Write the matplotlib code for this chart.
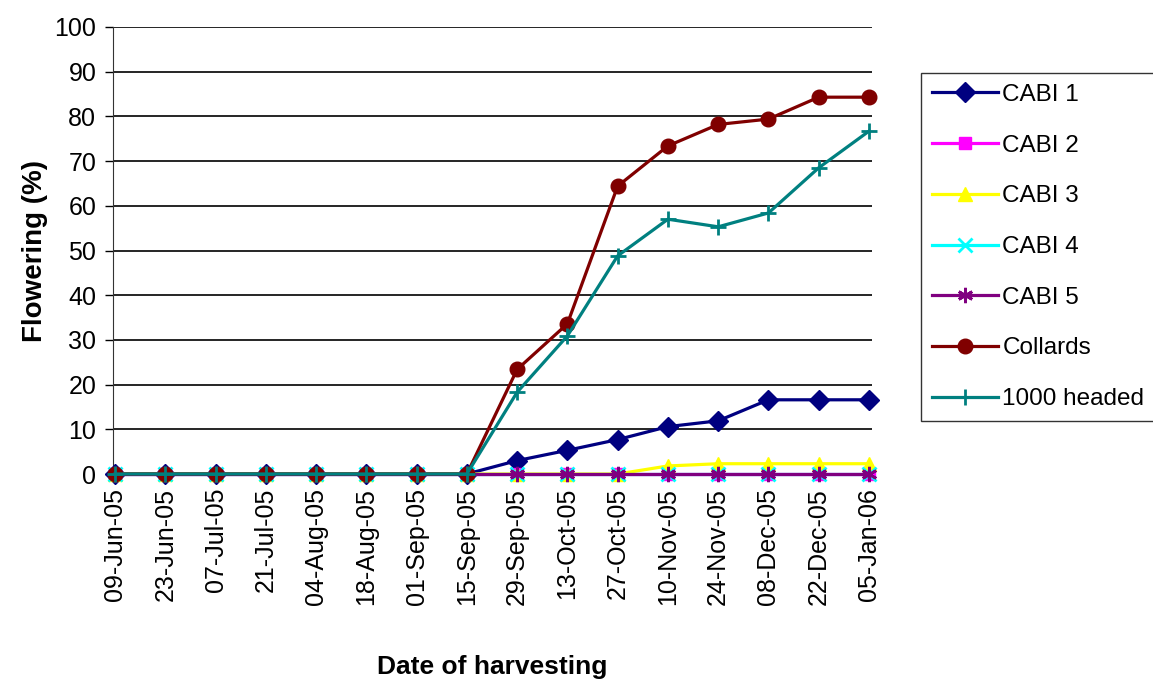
import matplotlib
matplotlib.use("Agg")
import matplotlib.pyplot as plt

dates = ["09-Jun-05", "23-Jun-05", "07-Jul-05", "21-Jul-05", "04-Aug-05",
         "18-Aug-05", "01-Sep-05", "15-Sep-05", "29-Sep-05", "13-Oct-05",
         "27-Oct-05", "10-Nov-05", "24-Nov-05", "08-Dec-05", "22-Dec-05",
         "05-Jan-06"]

cabi1 = [0, 0, 0, 0, 0, 0, 0, 0, 3.0, 5.3, 7.7, 10.6, 11.9, 16.6, 16.6, 16.6]
cabi2 = [0, 0, 0, 0, 0, 0, 0, 0, 0, 0, 0, 0, 0, 0, 0, 0]
cabi3 = [0, 0, 0, 0, 0, 0, 0, 0, 0, 0, 0, 1.8, 2.3, 2.3, 2.3, 2.3]
cabi4 = [0, 0, 0, 0, 0, 0, 0, 0, 0, 0, 0, 0, 0, 0, 0, 0]
cabi5 = [0, 0, 0, 0, 0, 0, 0, 0, 0, 0, 0, 0, 0, 0, 0, 0]
collards = [0, 0, 0, 0, 0, 0, 0, 0, 23.4, 33.6, 64.4, 73.4, 78.2, 79.4, 84.3, 84.3]
headed1000 = [0, 0, 0, 0, 0, 0, 0, 0, 18.3, 30.9, 48.8, 57.0, 55.3, 58.4, 68.5, 76.7]

series_names = ["CABI 1", "CABI 2", "CABI 3", "CABI 4", "CABI 5", "Collards", "1000 headed"]

plt.rcParams['font.family'] = ['Liberation Sans', 'DejaVu Sans']

fig = plt.figure(figsize=(11.53, 6.81), dpi=100)
ax = fig.add_axes([113/1153, 1 - 474/681, (872 - 113)/1153, (474 - 27)/681])

x = list(range(len(dates)))
styles = [
    dict(color="#000080", marker="D", ms=10, mew=1, lw=2.3),
    dict(color="#FF00FF", marker="s", ms=8.5, mew=1, lw=2.3),
    dict(color="#FFFF00", marker="^", ms=10.5, mew=1, lw=2.3),
    dict(color="#00FFFF", marker="x", ms=9.5, mew=2, lw=2.3),
    dict(color="#800080", marker=(6, 2, 0), ms=11, mew=2, lw=2.3),
    dict(color="#800000", marker="o", ms=10.5, mew=1, lw=2.3),
    dict(color="#008080", marker="+", ms=12, mew=2, lw=2.3),
]
data = [cabi1, cabi2, cabi3, cabi4, cabi5, collards, headed1000]
for name, vals, st in zip(series_names, data, styles):
    ax.plot(x, vals, label=name, clip_on=False, zorder=3, **st)

ax.set_xlim(-0.04, 15.06)
ax.set_ylim(0, 100)
ax.set_yticks(range(0, 101, 10))
ax.set_xticks(x)
ax.set_xticklabels(dates, rotation=90, fontsize=18)
ax.tick_params(axis='y', labelsize=18, length=6, width=1, direction='out', pad=6)
ax.tick_params(axis='x', length=0, pad=10)
ax.yaxis.grid(True, color='black', lw=1.2)
ax.set_axisbelow(True)
for s in ['top', 'right']:
    ax.spines[s].set_visible(False)
ax.spines['left'].set_color('#333333')
ax.spines['bottom'].set_color('#333333')

ax.set_ylabel("Flowering (%)", fontsize=20, fontweight='bold', labelpad=5)
ax.set_xlabel("Date of harvesting", fontsize=19, fontweight='bold', labelpad=36)

leg = fig.legend(loc='upper left', bbox_to_anchor=(921/1153, 1 - 73/681),
                 fontsize=17.5, frameon=True, fancybox=False, edgecolor='black',
                 labelspacing=1.18, handlelength=2.7, borderpad=0.45,
                 handletextpad=0.2, borderaxespad=0)
leg.get_frame().set_linewidth(1)

fig.savefig("out.png", dpi=100)
